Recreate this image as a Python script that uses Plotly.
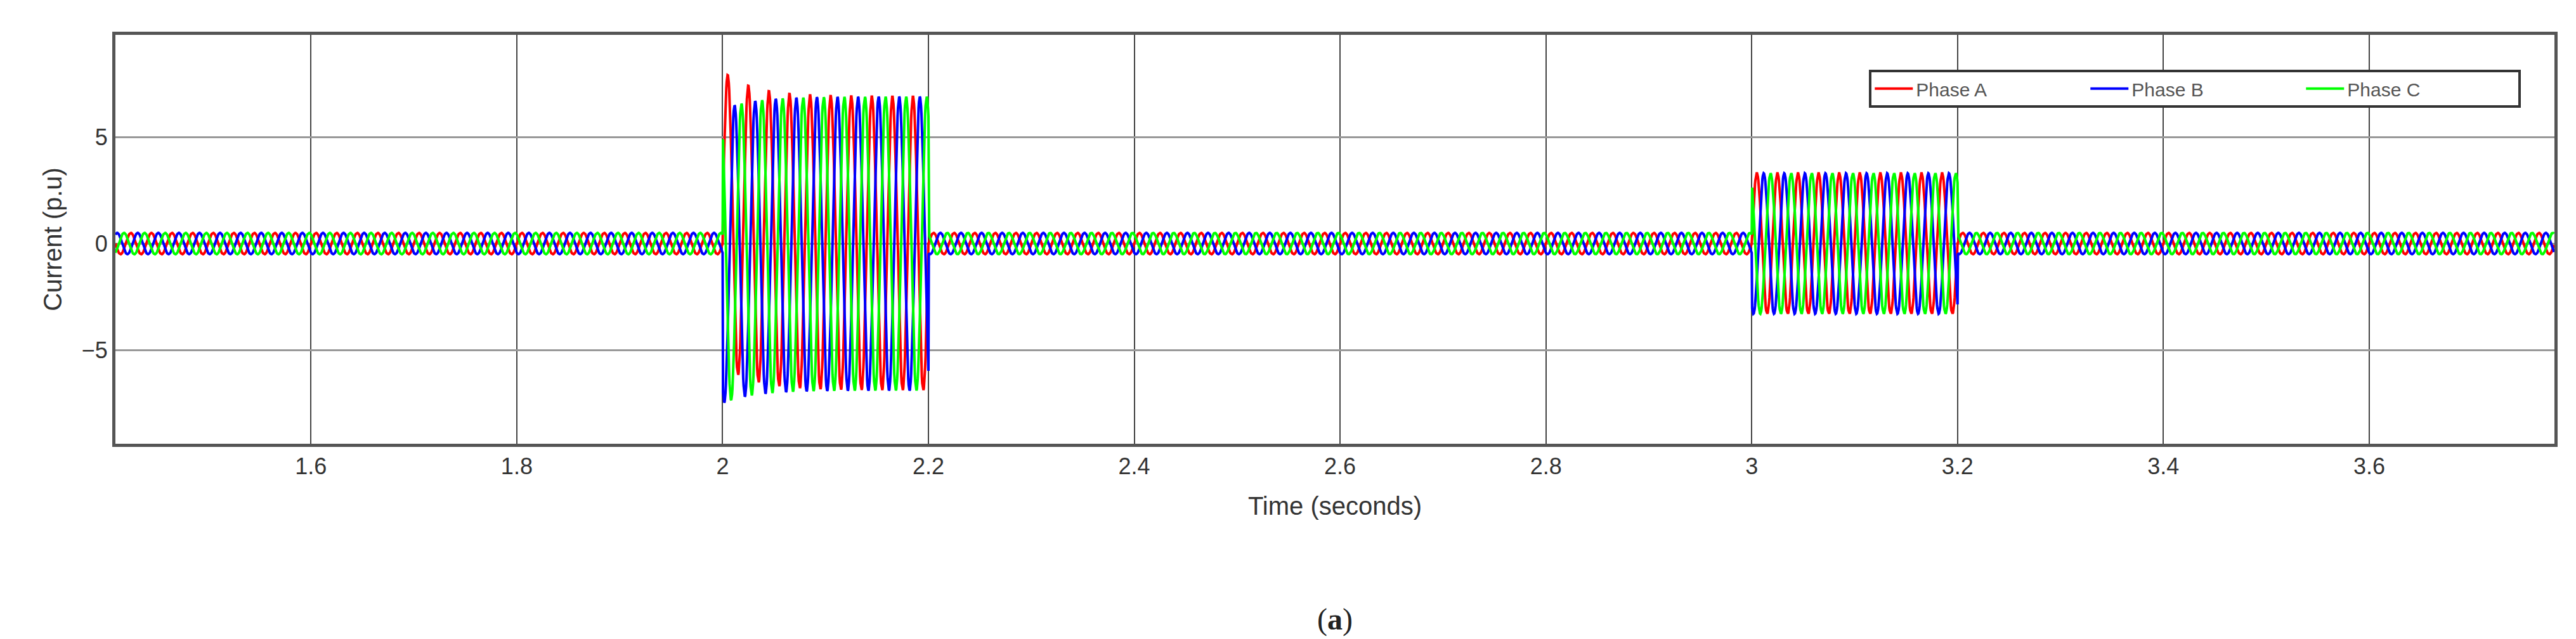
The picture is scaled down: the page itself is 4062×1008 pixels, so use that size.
import numpy as np
import plotly.graph_objects as go

# waveform description
freq = 50.0
t_start, t_end, dt = 1.41, 3.78, 0.0004
normal_amp = 0.5
fault_start = [2.0, 3.0]
fault_end = [2.2, 3.2]
fault_amp = [6.9, 3.3]
fault_offset = [1.2, 0.0]
phase_names = ["Phase A", "Phase B", "Phase C"]
phase_colors = ["#ff0000", "#0000ff", "#00ff00"]
phase_shift = [0.0, -120.0, 120.0]

x_ticks = [1.6, 1.8, 2.0, 2.2, 2.4, 2.6, 2.8, 3.0, 3.2, 3.4, 3.6]
x_labels = ["1.6", "1.8", "2", "2.2", "2.4", "2.6", "2.8", "3", "3.2", "3.4", "3.6"]
y_ticks = [-5, 0, 5]

t = np.arange(t_start, t_end, dt)

fig = go.Figure()
for name, col, sh in zip(phase_names, phase_colors, phase_shift):
    ph = np.deg2rad(sh)
    amp = np.full_like(t, normal_amp)
    off = np.zeros_like(t)
    for a, b, A, o in zip(fault_start, fault_end, fault_amp, fault_offset):
        m = (t >= a) & (t < b)
        amp[m] = A
        off[m] = o * np.cos(ph) * np.exp(-(t[m] - a) / 0.03)
    y = amp * np.sin(2 * np.pi * freq * t + ph) + off
    fig.add_trace(go.Scatter(x=t, y=y, name=name, mode="lines",
                             line=dict(color=col, width=4)))

fig.update_layout(
    width=4062, height=1008,
    margin=dict(l=174, r=42, t=47, b=316),
    plot_bgcolor="white", paper_bgcolor="white",
    font=dict(family="Liberation Sans", color="#333333"),
    showlegend=True,
    legend=dict(orientation="h", x=0.719, y=0.915, xanchor="left", yanchor="top",
                bgcolor="white", bordercolor="#333333", borderwidth=4,
                font=dict(size=30, color="#555555"), entrywidth=265,
                itemwidth=60, tracegroupgap=0),
)
fig.update_xaxes(range=[t_start, t_end], tickvals=x_ticks, ticktext=x_labels,
                 showgrid=True, gridcolor="#444444", gridwidth=1.5,
                 showline=True, linecolor="#555555", linewidth=5, mirror=True,
                 ticks="", tickfont=dict(size=36), zeroline=False,
                 title=dict(text="Time (seconds)", font=dict(size=40), standoff=30))
fig.update_yaxes(range=[-9.4, 9.8], tickvals=y_ticks,
                 showgrid=True, gridcolor="#999999", gridwidth=3,
                 showline=True, linecolor="#555555", linewidth=5, mirror=True,
                 ticks="", tickfont=dict(size=36), zeroline=False,
                 title=dict(text="Current (p.u)", font=dict(size=40), standoff=20))
fig.add_annotation(text="(<b>a</b>)", xref="paper", yref="paper", x=0.5, y=-0.43,
                   yanchor="middle", showarrow=False,
                   font=dict(family="Liberation Serif", size=48, color="#222222"))
fig.write_html("out.html")
